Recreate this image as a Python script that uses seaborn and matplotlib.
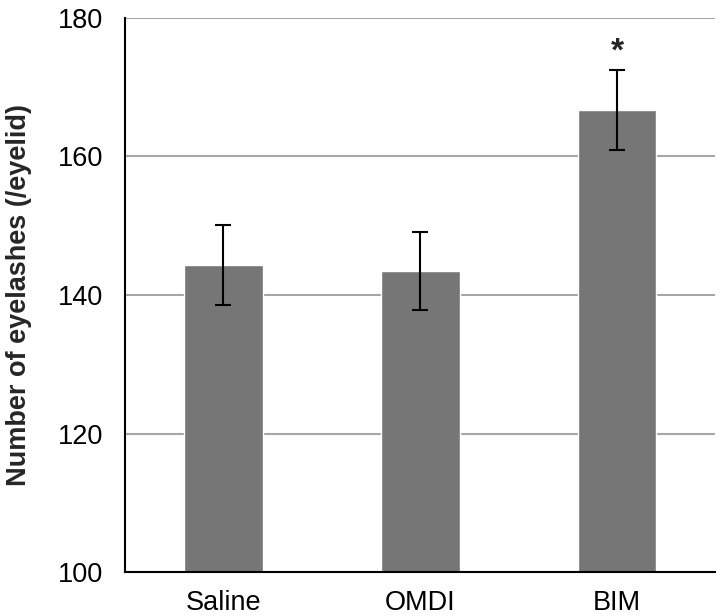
import numpy as np
import pandas as pd
import seaborn as sns
from matplotlib import pyplot as plt

groups = ['Saline', 'OMDI', 'BIM']
means = [144.3, 143.5, 166.7]
errors = [5.8, 5.6, 5.75]
stars = ['', '', '*']

sns.set_theme(style='white')
plt.rcParams['font.family'] = ['Liberation Sans', 'DejaVu Sans']

df = pd.DataFrame({'group': groups, 'mean': means})

fig = plt.figure(figsize=(7.2, 6.16), dpi=100)
ax = fig.add_axes([0.1736, 0.0714, 0.82, 0.8994])

sns.barplot(data=df, x='group', y='mean', color='#767676', saturation=1,
            width=0.4, ax=ax, zorder=2)
ax.errorbar(range(len(groups)), means, yerr=errors, fmt='none', ecolor='black',
            elinewidth=1.5, capsize=6, capthick=1.5, zorder=3)

for i, s in enumerate(stars):
    if s:
        ax.text(i, means[i] + errors[i] + 0.4, s, ha='center', va='bottom',
                fontsize=24, fontweight='bold')

ax.set_ylim(100, 180)
ax.set_xlim(-0.5, 2.5)
ax.set_yticks([100, 120, 140, 160, 180])
ax.yaxis.grid(True, color='#a6a6a6', linewidth=1.5, zorder=0)
ax.set_axisbelow(True)
for sp in ['top', 'right']:
    ax.spines[sp].set_visible(False)
for sp in ['left', 'bottom']:
    ax.spines[sp].set_color('black')
    ax.spines[sp].set_linewidth(1.5)
ax.tick_params(axis='both', length=0, labelsize=19.5, colors='black')
ax.tick_params(axis='y', pad=16)
ax.tick_params(axis='x', pad=13)
ax.set_xlabel('')
ax.set_ylabel('Number of eyelashes (/eyelid)', fontsize=19.5, fontweight='bold',
              labelpad=18)

fig.savefig('out.png', dpi=100)
